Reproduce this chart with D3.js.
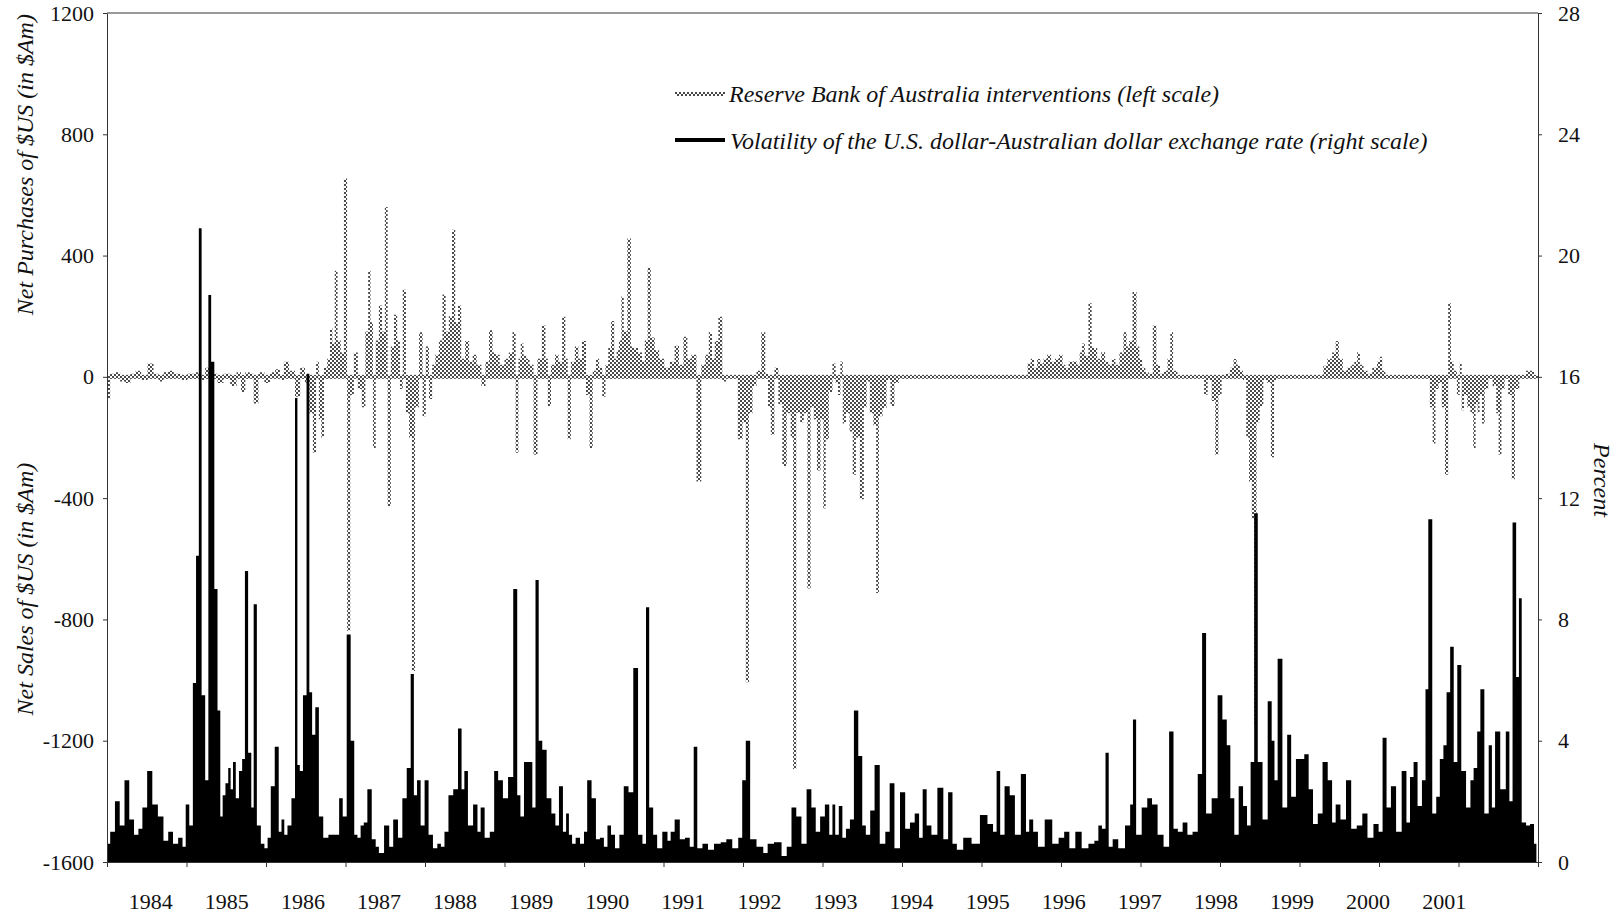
<!DOCTYPE html>
<html>
<head>
<meta charset="utf-8">
<script src="https://cdn.jsdelivr.net/npm/d3@7"></script>
<style>
  body { margin: 0; background: #fff; }
  svg text { font-family: "Liberation Serif", "Times New Roman", serif; fill: #111; }
  .axis path, .axis line { stroke: #333; }
</style>
</head>
<body>
<div id="chart"></div>
<script>
// ---------------------------- DATA ----------------------------//
// [decimal year, value]
const leftTicks = [-1600, -1200, -800, -400, 0, 400, 800, 1200];
const rightTicks = [0, 4, 8, 12, 16, 20, 24, 28];
const yearTicks = [1984, 1985, 1986, 1987, 1988, 1989, 1990, 1991, 1992, 1993, 1994, 1995, 1996, 1997, 1998, 1999, 2000, 2001, 2002];
const yearLabels = ["1984", "1985", "1986", "1987", "1988", "1989", "1990", "1991", "1992", "1993", "1994", "1995", "1996", "1997", "1998", "1999", "2000", "2001"];

// RBA net purchases of $US, $Am (left scale)
const iv1984_86 = [[1984.01,-73],[1984.07,10],[1984.13,15],[1984.20,-15],[1984.26,-20],[1984.33,10],[1984.39,20],[1984.47,-10],[1984.55,44],[1984.62,10],[1984.68,-15],[1984.74,15],[1984.80,20],[1984.88,10],[1984.97,-10],[1985.05,10],[1985.14,15],[1985.20,-10],[1985.27,30],[1985.35,10],[1985.43,-20],[1985.50,10],[1985.60,-30],[1985.66,15],[1985.71,-50],[1985.77,15],[1985.82,10],[1985.87,-88],[1985.94,15],[1986.02,-20],[1986.08,15],[1986.15,25],[1986.20,-10],[1986.25,50],[1986.33,20],[1986.40,-66],[1986.46,30],[1986.52,-20],[1986.57,-120],[1986.61,-250],[1986.65,50],[1986.68,-140],[1986.71,-200],[1986.75,30],[1986.79,60],[1986.82,160],[1986.85,110],[1986.88,350],[1986.92,120]];
const iv1987_89 = [[1986.96,80],[1987.00,654],[1987.04,-838],[1987.08,-60],[1987.13,80],[1987.18,-40],[1987.23,-100],[1987.27,150],[1987.30,350],[1987.33,180],[1987.36,-235],[1987.40,120],[1987.44,235],[1987.48,150],[1987.51,560],[1987.55,-426],[1987.59,100],[1987.63,205],[1987.67,120],[1987.70,-40],[1987.74,287],[1987.78,-120],[1987.82,-200],[1987.85,-970],[1987.90,-100],[1987.95,147],[1987.99,-130],[1988.03,100],[1988.07,-73],[1988.11,40],[1988.15,73],[1988.20,120],[1988.24,272],[1988.28,150],[1988.32,200],[1988.36,485],[1988.40,180],[1988.43,235],[1988.48,60],[1988.53,118],[1988.58,50],[1988.62,73],[1988.68,40],[1988.74,-30],[1988.78,50],[1988.83,154],[1988.87,80],[1988.91,73],[1988.97,40],[1989.03,60],[1989.08,80],[1989.12,147],[1989.16,-250],[1989.19,60],[1989.22,110],[1989.26,70],[1989.29,60],[1989.34,40],[1989.39,-257],[1989.44,60],[1989.50,169],[1989.53,60],[1989.56,-96],[1989.61,40],[1989.66,73],[1989.70,50],[1989.75,198],[1989.78,60],[1989.81,-206],[1989.86,50],[1989.91,100],[1989.95,60]];
const iv1990_92 = [[1990.00,118],[1990.05,-60],[1990.09,-235],[1990.13,20],[1990.17,60],[1990.21,30],[1990.25,-66],[1990.29,40],[1990.32,95],[1990.36,184],[1990.40,60],[1990.42,88],[1990.46,120],[1990.48,265],[1990.52,150],[1990.57,456],[1990.61,100],[1990.65,95],[1990.71,80],[1990.75,50],[1990.78,120],[1990.82,360],[1990.86,130],[1990.92,88],[1990.97,60],[1991.05,30],[1991.11,50],[1991.17,103],[1991.22,40],[1991.28,132],[1991.32,60],[1991.38,73],[1991.45,-345],[1991.50,40],[1991.55,73],[1991.59,147],[1991.63,60],[1991.66,118],[1991.72,198],[1991.76,-15],[1991.82,0],[1991.90,0],[1991.97,-206],[1992.02,-150],[1992.05,-1007],[1992.10,-120],[1992.14,-30],[1992.20,20],[1992.26,147],[1992.30,10],[1992.33,-100],[1992.37,-191],[1992.42,30],[1992.47,-90],[1992.52,-294],[1992.58,-120],[1992.62,-200],[1992.64,-1294],[1992.70,-118],[1992.74,-150],[1992.79,-120],[1992.83,-698],[1992.87,-100],[1992.91,-140],[1992.95,-309]];
const iv1993_95 = [[1993.00,-140],[1993.02,-434],[1993.06,-206],[1993.10,-50],[1993.15,44],[1993.18,-20],[1993.21,-60],[1993.24,51],[1993.27,-154],[1993.32,-120],[1993.36,-180],[1993.40,-323],[1993.44,-200],[1993.50,-404],[1993.54,-100],[1993.57,-15],[1993.62,-120],[1993.66,-160],[1993.69,-713],[1993.73,-130],[1993.78,-103],[1993.83,-10],[1993.88,-96],[1993.93,-20],[1993.99,0],[1995.56,0],[1995.60,44],[1995.64,60],[1995.68,30],[1995.72,59],[1995.76,44],[1995.80,60],[1995.85,73],[1995.90,50],[1995.95,60]];
const iv1996_98 = [[1996.00,73],[1996.04,40],[1996.07,30],[1996.12,50],[1996.18,51],[1996.22,40],[1996.25,80],[1996.28,110],[1996.32,70],[1996.37,243],[1996.40,100],[1996.43,95],[1996.48,60],[1996.53,81],[1996.58,50],[1996.62,40],[1996.66,59],[1996.71,40],[1996.76,80],[1996.81,147],[1996.84,100],[1996.87,118],[1996.93,280],[1996.97,100],[1997.00,60],[1997.04,30],[1997.08,15],[1997.13,10],[1997.18,169],[1997.22,40],[1997.27,10],[1997.32,20],[1997.36,60],[1997.39,147],[1997.43,20],[1997.50,0],[1997.78,0],[1997.82,-59],[1997.87,-10],[1997.92,-80],[1997.96,-257],[1998.00,-60],[1998.04,0],[1998.10,10],[1998.15,30],[1998.19,59],[1998.23,40],[1998.27,20],[1998.31,-10],[1998.35,-200],[1998.38,-345],[1998.42,-470],[1998.44,-1150],[1998.48,-150],[1998.52,-96],[1998.57,-10],[1998.62,-20],[1998.66,-265],[1998.70,-10],[1998.75,0]];
const iv1999_01 = [[1999.00,0],[1999.28,0],[1999.32,37],[1999.38,60],[1999.44,80],[1999.47,118],[1999.52,60],[1999.57,20],[1999.62,30],[1999.67,40],[1999.71,50],[1999.74,81],[1999.78,40],[1999.83,20],[1999.88,10],[1999.95,30],[2000.00,50],[2000.02,66],[2000.06,20],[2000.10,0],[2000.62,0],[2000.66,-100],[2000.69,-220],[2000.73,-40],[2000.77,-20],[2000.81,-100],[2000.85,-323],[2000.89,243],[2000.92,50],[2000.96,20],[2001.00,-60],[2001.03,44],[2001.05,-110],[2001.09,-60],[2001.13,-100],[2001.17,-120],[2001.20,-235],[2001.23,-90],[2001.25,-120],[2001.28,-60],[2001.31,-154],[2001.35,-40],[2001.40,0],[2001.46,-30],[2001.49,-120],[2001.52,-257],[2001.56,-40],[2001.60,0],[2001.65,-60],[2001.69,-338],[2001.73,-40],[2001.80,0],[2001.90,20],[2002.00,0]];

// US$-A$ exchange rate volatility, percent (right scale)
const vol1984_86 = [[1984.01,0.6],[1984.07,1.0],[1984.13,2.0],[1984.19,1.2],[1984.25,2.7],[1984.31,1.4],[1984.37,0.9],[1984.42,1.1],[1984.47,1.8],[1984.54,3.0],[1984.60,1.9],[1984.68,1.5],[1984.74,0.7],[1984.80,1.0],[1984.86,0.6],[1984.93,0.8],[1984.97,0.5],[1985.01,1.9],[1985.06,1.2],[1985.10,5.9],[1985.14,10.1],[1985.17,20.9],[1985.21,5.5],[1985.26,2.7],[1985.29,18.7],[1985.33,16.5],[1985.37,9.0],[1985.41,5.0],[1985.44,1.5],[1985.47,2.2],[1985.51,2.6],[1985.54,3.1],[1985.57,2.4],[1985.60,3.3],[1985.64,2.1],[1985.68,3.0],[1985.72,3.4],[1985.75,9.6],[1985.80,3.6],[1985.83,1.8],[1985.86,8.5],[1985.91,1.2],[1985.96,0.6],[1986.00,0.45],[1986.04,0.8],[1986.08,2.5],[1986.14,3.8],[1986.18,1.0],[1986.21,1.4],[1986.25,0.9],[1986.29,1.2],[1986.35,2.1],[1986.38,15.3],[1986.41,3.2],[1986.44,3.0],[1986.49,5.5],[1986.53,16.1],[1986.56,5.6],[1986.60,4.2],[1986.64,5.1],[1986.69,1.5],[1986.75,0.8],[1986.82,0.9],[1986.90,0.9]];
const vol1987_89 = [[1986.94,2.1],[1986.99,1.5],[1987.04,7.5],[1987.09,4.0],[1987.13,0.9],[1987.17,0.8],[1987.21,1.2],[1987.25,1.3],[1987.30,2.4],[1987.36,0.75],[1987.40,0.5],[1987.44,0.3],[1987.53,1.2],[1987.57,0.5],[1987.63,1.4],[1987.69,0.8],[1987.74,2.1],[1987.80,3.1],[1987.84,6.2],[1987.88,2.2],[1987.92,2.7],[1987.97,1.2],[1988.02,2.7],[1988.07,0.9],[1988.13,0.45],[1988.18,0.6],[1988.22,0.5],[1988.27,1.0],[1988.32,2.2],[1988.39,2.4],[1988.44,4.4],[1988.48,2.4],[1988.51,3.0],[1988.57,1.2],[1988.64,1.9],[1988.68,1.0],[1988.72,1.8],[1988.78,0.8],[1988.85,1.0],[1988.89,3.0],[1988.95,2.7],[1989.01,2.1],[1989.08,2.8],[1989.14,9.0],[1989.18,2.2],[1989.22,1.5],[1989.27,3.3],[1989.33,3.3],[1989.37,1.8],[1989.41,9.3],[1989.45,4.0],[1989.50,3.7],[1989.56,2.1],[1989.62,1.6],[1989.66,1.2],[1989.71,2.5],[1989.76,1.0],[1989.79,1.6],[1989.83,0.9],[1989.87,0.6],[1989.92,0.8]];
const vol1990_92 = [[1989.98,0.6],[1990.02,1.0],[1990.06,2.7],[1990.13,2.1],[1990.17,0.75],[1990.23,0.8],[1990.27,0.5],[1990.32,1.2],[1990.36,0.9],[1990.42,0.45],[1990.47,0.9],[1990.53,2.5],[1990.59,2.3],[1990.65,6.4],[1990.71,0.9],[1990.76,0.6],[1990.80,8.4],[1990.84,1.8],[1990.90,0.9],[1990.94,0.45],[1991.03,1.0],[1991.07,0.7],[1991.11,1.0],[1991.17,1.4],[1991.24,0.75],[1991.30,0.8],[1991.36,0.5],[1991.40,3.8],[1991.45,0.45],[1991.53,0.6],[1991.59,0.4],[1991.68,0.6],[1991.76,0.65],[1991.82,0.75],[1991.91,0.45],[1991.97,0.8],[1992.01,2.7],[1992.06,4.0],[1992.12,0.75],[1992.22,0.5],[1992.29,0.3],[1992.33,0.6],[1992.45,0.65],[1992.52,0.2],[1992.58,0.5],[1992.64,1.8],[1992.70,1.5],[1992.77,0.6],[1992.83,2.4],[1992.89,1.8],[1992.94,1.0]];
const vol1993_95 = [[1993.00,1.5],[1993.06,1.9],[1993.11,0.9],[1993.14,1.9],[1993.18,0.9],[1993.23,1.85],[1993.27,0.8],[1993.32,1.1],[1993.37,1.4],[1993.42,5.0],[1993.48,3.5],[1993.52,1.2],[1993.57,0.9],[1993.63,1.7],[1993.68,3.2],[1993.76,0.6],[1993.82,1.0],[1993.87,2.6],[1993.94,0.45],[1994.01,2.3],[1994.07,1.1],[1994.13,1.3],[1994.19,1.6],[1994.24,0.8],[1994.28,2.4],[1994.34,1.2],[1994.40,0.9],[1994.49,2.45],[1994.55,0.75],[1994.61,2.3],[1994.66,0.6],[1994.72,0.4],[1994.82,0.8],[1994.93,0.6],[1995.03,1.55],[1995.12,1.25],[1995.17,1.0],[1995.21,3.0],[1995.26,0.9],[1995.32,2.5],[1995.39,2.2],[1995.45,0.9],[1995.54,2.9],[1995.58,1.0],[1995.62,1.4],[1995.68,1.0],[1995.74,0.5],[1995.85,1.4],[1995.93,0.6]];
const vol1996_98 = [[1996.01,0.8],[1996.07,1.0],[1996.14,0.45],[1996.22,1.0],[1996.30,0.45],[1996.39,0.6],[1996.45,0.7],[1996.49,1.2],[1996.54,1.1],[1996.58,3.6],[1996.62,0.5],[1996.68,0.75],[1996.76,0.45],[1996.85,1.2],[1996.89,1.9],[1996.92,4.7],[1996.97,0.9],[1997.06,1.8],[1997.11,2.1],[1997.18,1.9],[1997.25,0.9],[1997.33,0.5],[1997.39,4.3],[1997.44,1.1],[1997.50,1.0],[1997.56,1.3],[1997.62,0.9],[1997.69,1.0],[1997.75,2.9],[1997.80,7.55],[1997.85,1.6],[1997.94,2.1],[1998.00,5.5],[1998.06,4.7],[1998.11,3.85],[1998.15,2.1],[1998.21,0.9],[1998.26,2.5],[1998.32,1.85],[1998.36,1.2],[1998.41,3.3],[1998.45,11.5],[1998.50,3.3],[1998.57,1.4],[1998.63,5.3],[1998.67,4.0],[1998.70,2.7],[1998.75,6.7],[1998.82,1.8],[1998.87,4.2],[1998.92,2.15],[1998.99,3.4]];
const vol1999_01 = [[1999.03,3.4],[1999.09,3.55],[1999.14,2.4],[1999.20,1.25],[1999.26,1.6],[1999.32,3.3],[1999.39,2.7],[1999.43,1.3],[1999.48,1.9],[1999.55,1.4],[1999.62,2.7],[1999.68,1.1],[1999.76,1.2],[1999.82,1.6],[1999.89,0.8],[1999.97,1.25],[2000.02,1.0],[2000.07,4.1],[2000.12,1.8],[2000.18,2.5],[2000.25,1.0],[2000.32,3.0],[2000.37,1.3],[2000.41,2.8],[2000.46,3.3],[2000.51,1.85],[2000.57,2.7],[2000.60,5.7],[2000.64,11.3],[2000.70,1.6],[2000.74,2.15],[2000.79,3.4],[2000.83,3.85],[2000.87,5.6],[2000.92,7.1],[2000.96,3.3],[2001.01,6.5],[2001.06,3.0],[2001.13,1.8],[2001.17,2.7],[2001.21,3.1],[2001.26,4.3],[2001.29,5.7],[2001.36,1.6],[2001.40,3.85],[2001.44,1.8],[2001.48,4.3],[2001.57,2.4],[2001.62,4.3],[2001.66,2.0],[2001.70,11.2],[2001.75,6.1],[2001.77,8.7],[2001.82,1.3],[2001.88,1.2],[2001.92,1.25],[2001.98,0.6]];

const interventions = [].concat(iv1984_86, iv1987_89, iv1990_92, iv1993_95, iv1996_98, iv1999_01);
const volatility = [].concat(vol1984_86, vol1987_89, vol1990_92, vol1993_95, vol1996_98, vol1999_01);

// --------------------------- LAYOUT ---------------------------//
const width = 1615;
const height = 915;
const plotLeft = 107, plotRight = 1538, plotTop = 13, plotBottom = 862;

const svg = d3.select("#chart").append("svg")
  .attr("width", width)
  .attr("height", height);

// halftone pattern used for the intervention series
const defs = svg.append("defs");
const pat = defs.append("pattern")
  .attr("id", "dots")
  .attr("patternUnits", "userSpaceOnUse")
  .attr("width", 4).attr("height", 4);
pat.append("rect").attr("x", 0).attr("y", 0).attr("width", 2).attr("height", 2).attr("fill", "#4a4a4a");
pat.append("rect").attr("x", 2).attr("y", 2).attr("width", 2).attr("height", 2).attr("fill", "#4a4a4a");

// --------------------------- SCALES ---------------------------//
const x = d3.scaleLinear().domain([1984, 2002]).range([plotLeft, plotRight]);
const yL = d3.scaleLinear().domain([-1600, 1200]).range([plotBottom, plotTop]);
const yR = d3.scaleLinear().domain([0, 28]).range([plotBottom, plotTop]);
// the printed year labels drift a little from the tick marks
const xLab = d3.scalePoint().domain(yearLabels).range([x(1984.55), x(2000.82)]);

// --------------------------- SERIES ---------------------------//
const ivArea = d3.area()
  .curve(d3.curveStep)
  .x(d => x(d[0]))
  .y0(yL(0))
  .y1(d => yL(d[1]));

const volArea = d3.area()
  .curve(d3.curveStep)
  .x(d => x(d[0]))
  .y0(yR(0))
  .y1(d => yR(d[1]));

// dotted zero line of the intervention series
svg.append("rect")
  .attr("x", x(1984))
  .attr("y", yL(0) - 2)
  .attr("width", x(2002) - x(1984))
  .attr("height", 4)
  .attr("fill", "url(#dots)");

svg.append("path")
  .datum(interventions)
  .attr("d", ivArea)
  .attr("fill", "url(#dots)");

svg.append("path")
  .datum(volatility)
  .attr("d", volArea)
  .attr("fill", "#000");

// ---------------------------- AXES ----------------------------//
svg.append("g")
  .attr("class", "axis")
  .attr("transform", `translate(${plotLeft},0)`)
  .call(d3.axisLeft(yL).tickValues(leftTicks).tickFormat(d => String(d)).tickSize(4).tickPadding(9).tickSizeOuter(0))
  .call(g => g.selectAll("text").style("font-size", "22px").attr("fill", "#111"));

svg.append("g")
  .attr("class", "axis")
  .attr("transform", `translate(${plotRight},0)`)
  .call(d3.axisRight(yR).tickValues(rightTicks).tickFormat(d => String(d)).tickSize(4).tickPadding(16).tickSizeOuter(0))
  .call(g => g.selectAll("text").style("font-size", "22px").attr("fill", "#111"));

svg.append("g")
  .attr("class", "axis")
  .attr("transform", `translate(0,${plotBottom})`)
  .call(d3.axisBottom(x).tickValues(yearTicks).tickSize(5).tickFormat("").tickSizeOuter(0));

// top border
svg.append("line")
  .attr("x1", plotLeft).attr("x2", plotRight)
  .attr("y1", plotTop).attr("y2", plotTop)
  .attr("stroke", "#333");

svg.append("g")
  .selectAll("text")
  .data(yearLabels)
  .join("text")
  .attr("x", d => xLab(d))
  .attr("y", 909)
  .attr("text-anchor", "middle")
  .style("font-size", "22px")
  .text(d => d);

// axis titles
svg.append("text")
  .attr("transform", `translate(33,${yL(700)}) rotate(-90)`)
  .attr("text-anchor", "middle")
  .style("font-size", "24px")
  .style("font-style", "italic")
  .text("Net Purchases of $US (in $Am)");

svg.append("text")
  .attr("transform", `translate(33,${yL(-700)}) rotate(-90)`)
  .attr("text-anchor", "middle")
  .style("font-size", "24px")
  .style("font-style", "italic")
  .text("Net Sales of $US (in $Am)");

svg.append("text")
  .attr("transform", `translate(1594,${yR(12.6)}) rotate(90)`)
  .attr("text-anchor", "middle")
  .style("font-size", "24px")
  .style("font-style", "italic")
  .text("Percent");

// --------------------------- LEGEND ---------------------------//
const legend = svg.append("g").attr("transform", "translate(675,0)");
legend.append("rect")
  .attr("x", 0).attr("y", 92).attr("width", 50).attr("height", 4)
  .attr("fill", "url(#dots)");
legend.append("text")
  .attr("x", 54).attr("y", 102)
  .style("font-size", "24px").style("font-style", "italic")
  .text("Reserve Bank of Australia interventions (left scale)");
legend.append("rect")
  .attr("x", 0).attr("y", 138).attr("width", 50).attr("height", 4)
  .attr("fill", "#000");
legend.append("text")
  .attr("x", 55).attr("y", 149)
  .style("font-size", "24px").style("font-style", "italic")
  .text("Volatility of the U.S. dollar-Australian dollar exchange rate (right scale)");
</script>
</body>
</html>
